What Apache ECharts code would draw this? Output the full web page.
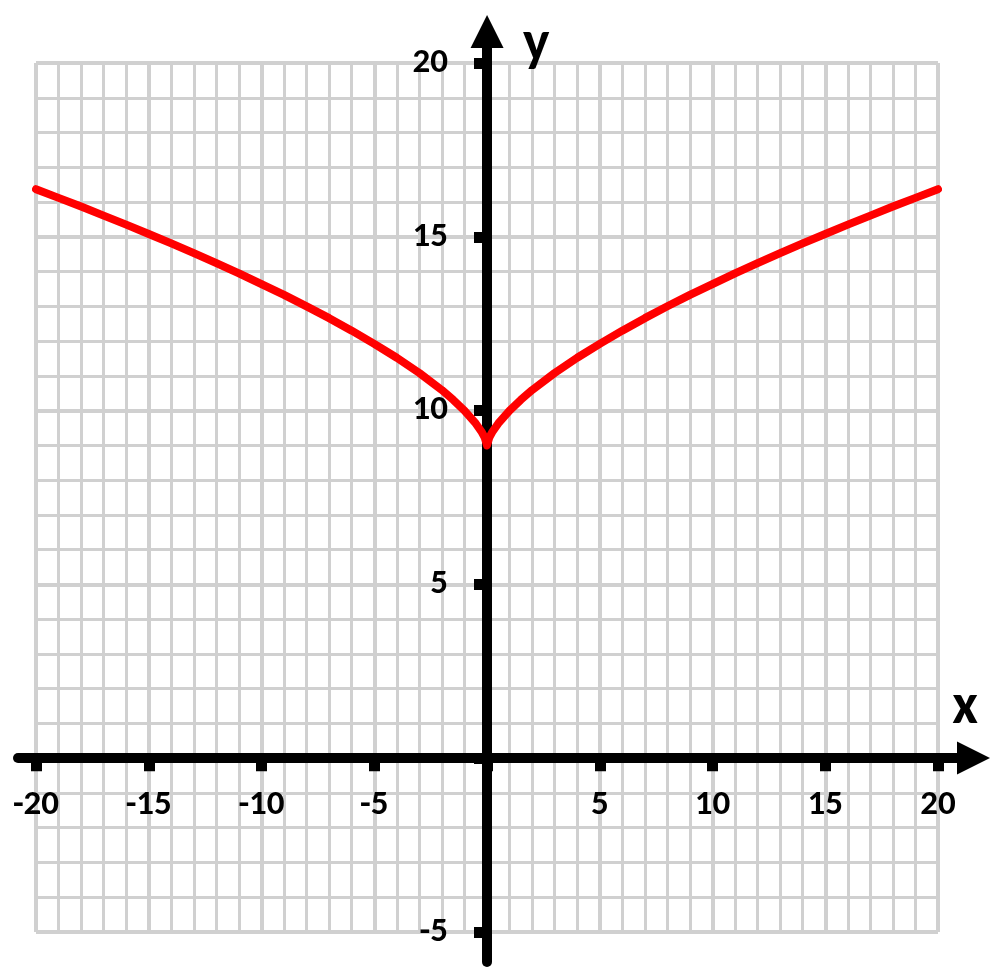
<!DOCTYPE html>
<html>
<head>
<meta charset="utf-8">
<script src="https://cdn.jsdelivr.net/npm/echarts@6/dist/echarts.min.js"></script>
<style>
    html, body { margin: 0; padding: 0; background: #fff; }
    #main { width: 1000px; height: 974px; }
</style>
</head>
<body>
<div id="main"></div>
<script>
    // values
    var xValues = [-20, -19, -18, -17, -16, -15, -14, -13, -12, -11, -10, -9, -8, -7, -6, -5, -4, -3, -2, -1.5, -1, -0.5, -0.25, -0.1, 0,
                   0.1, 0.25, 0.5, 1, 1.5, 2, 3, 4, 5, 6, 7, 8, 9, 10, 11, 12, 13, 14, 15, 16, 17, 18, 19, 20];
    var yValues = [16.37, 16.12, 15.87, 15.61, 15.35, 15.08, 14.81, 14.53, 14.24, 13.95, 13.64, 13.33, 13.0, 12.66, 12.3, 11.92, 11.52, 11.08, 10.59, 10.31, 10.0, 9.63, 9.4, 9.22, 9.0,
                   9.22, 9.4, 9.63, 10.0, 10.31, 10.59, 11.08, 11.52, 11.92, 12.3, 12.66, 13.0, 13.33, 13.64, 13.95, 14.24, 14.53, 14.81, 15.08, 15.35, 15.61, 15.87, 16.12, 16.37];
    var xTicks = [-20, 20, 5];   // min, max, step
    var yTicks = [-5, 20, 5];

    var font = "Carlito, Lato, 'Liberation Sans', sans-serif";
    var points = [];
    for (var i = 0; i < xValues.length; i++) {
        points.push([xValues[i], yValues[i]]);
    }
    function hideZero(v) {
        return v === 0 ? '' : String(v);
    }

    // plot area of the squared paper
    var gL = 36, gR = 62, gT = 63, gB = 42, W = 1000, H = 974;
    var pxX = (W - gL - gR) / (xTicks[1] - xTicks[0]);
    var pxY = (H - gT - gB) / (yTicks[1] - yTicks[0]);
    // move the labelled axes from the grid edge onto zero
    var xOff = -(0 - yTicks[0]) * pxY;
    var yOff = -(0 - xTicks[0]) * pxX;

    var myChart = echarts.init(document.getElementById('main'));
    var option = {
        backgroundColor: '#ffffff',
        animation: false,
        grid: [
            { left: gL, right: gR, top: gT, bottom: gB, outerBoundsMode: 'none', containLabel: false },
            { left: 18, right: 26.5, top: 31.5, bottom: 12, outerBoundsMode: 'none', containLabel: false }
        ],
        xAxis: [
            {
                gridIndex: 0, type: 'value', position: 'bottom', offset: xOff,
                min: xTicks[0], max: xTicks[1], interval: xTicks[2],
                axisLine: { show: true, onZero: false, lineStyle: { color: '#000', width: 10 } },
                axisTick: { show: true, length: 13, lineStyle: { color: '#000', width: 11 } },
                minorTick: { show: false, splitNumber: 5 },
                axisLabel: {
                    formatter: hideZero, margin: 30, color: '#000',
                    fontFamily: font, fontWeight: 'bold', fontSize: 35
                },
                splitLine: { show: true, lineStyle: { color: '#d0d0d0', width: 4 } },
                minorSplitLine: { show: true, lineStyle: { color: '#d0d0d0', width: 3 } }
            },
            {
                gridIndex: 1, type: 'value',
                min: -20.8, max: 21.57,
                axisLine: {
                    show: true, onZero: true,
                    symbol: ['none', 'triangle'], symbolSize: [33, 33],
                    lineStyle: { color: '#000', width: 10 }
                },
                axisTick: { show: false },
                axisLabel: { show: false },
                splitLine: { show: false },
                name: 'x', nameLocation: 'end', nameGap: -8.5,
                nameTextStyle: {
                    color: '#000', fontFamily: font, fontWeight: 'bold', fontSize: 56,
                    align: 'center', verticalAlign: 'bottom', padding: [0, 0, 21, 0]
                }
            }
        ],
        yAxis: [
            {
                gridIndex: 0, type: 'value', position: 'left', offset: yOff,
                min: yTicks[0], max: yTicks[1], interval: yTicks[2],
                axisLine: { show: true, onZero: false, lineStyle: { color: '#000', width: 10 } },
                axisTick: { show: true, length: 13, lineStyle: { color: '#000', width: 11 } },
                minorTick: { show: false, splitNumber: 5 },
                axisLabel: {
                    formatter: hideZero, margin: 39, color: '#000',
                    fontFamily: font, fontWeight: 'bold', fontSize: 35
                },
                splitLine: { show: true, lineStyle: { color: '#d0d0d0', width: 4 } },
                minorSplitLine: { show: true, lineStyle: { color: '#d0d0d0', width: 3 } }
            },
            {
                gridIndex: 1, type: 'value',
                min: -5.87, max: 20.9,
                axisLine: {
                    show: true, onZero: true,
                    symbol: ['none', 'triangle'], symbolSize: [33, 33],
                    lineStyle: { color: '#000', width: 10 }
                },
                axisTick: { show: false },
                axisLabel: { show: false },
                splitLine: { show: false },
                name: 'y', nameLocation: 'end', nameGap: -42,
                nameTextStyle: {
                    color: '#000', fontFamily: font, fontWeight: 'bold', fontSize: 56,
                    align: 'left', verticalAlign: 'bottom', padding: [0, 0, 0, 36]
                }
            }
        ],
        series: [
            {
                name: 'curve',
                type: 'line',
                xAxisIndex: 0,
                yAxisIndex: 0,
                data: points,
                showSymbol: false,
                smooth: false,
                z: 10,
                lineStyle: { color: '#ff0000', width: 8, join: 'round', cap: 'round' }
            }
        ]
    };
    myChart.setOption(option);
</script>
</body>
</html>
